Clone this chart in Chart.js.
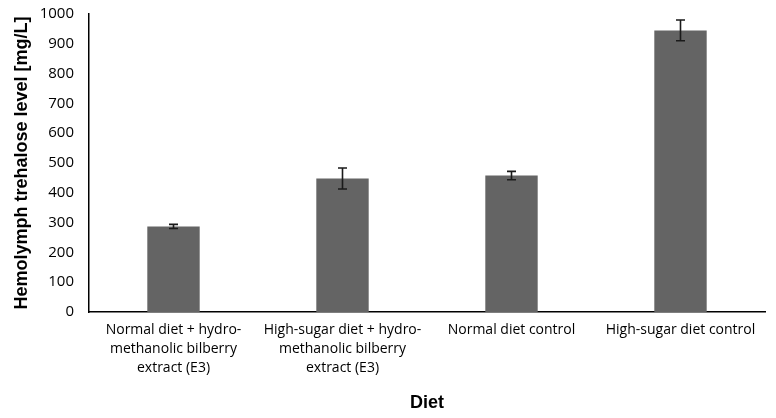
<!DOCTYPE html>
<html>
<head>
<meta charset="utf-8">
<script src="https://cdn.jsdelivr.net/npm/chart.js@4"></script>
<style>
  html, body { margin: 0; padding: 0; background: #fff; }
  #wrap { width: 776px; height: 418px; }
</style>
</head>
<body>
<div id="wrap"><canvas id="myChart"></canvas></div>
<script>
// categories (multi-line labels as in the figure)
const dietLabels = [
  ["Normal diet + hydro-", "methanolic bilberry", "extract (E3)"],
  ["High-sugar diet + hydro-", "methanolic bilberry", "extract (E3)"],
  ["Normal diet control"],
  ["High-sugar diet control"]
];
// mean trehalose level and error (mg/L)
const trehaloseMean = [287, 448, 458, 945];
const trehaloseErr = [7, 35, 14, 35];
const yTicks = [0, 100, 200, 300, 400, 500, 600, 700, 800, 900, 1000];

const tickFont = "'Open Sans', 'Liberation Sans', sans-serif";
const titleFont = "'Liberation Sans', Arial, sans-serif";

// draws error bars using the chart's own scales
const errorBars = {
  id: "errorBars",
  afterDatasetsDraw(chart) {
    const ctx = chart.ctx;
    const meta = chart.getDatasetMeta(0);
    const y = chart.scales.y;
    ctx.save();
    ctx.strokeStyle = "#1a1a1a";
    ctx.lineWidth = 1.6;
    meta.data.forEach(function (bar, i) {
      const top = y.getPixelForValue(trehaloseMean[i] + trehaloseErr[i]);
      const bot = y.getPixelForValue(trehaloseMean[i] - trehaloseErr[i]);
      const x = bar.x;
      ctx.beginPath();
      ctx.moveTo(x, top);
      ctx.lineTo(x, bot);
      ctx.moveTo(x - 4.5, top);
      ctx.lineTo(x + 4.5, top);
      ctx.moveTo(x - 4.5, bot);
      ctx.lineTo(x + 4.5, bot);
      ctx.stroke();
    });
    ctx.restore();
  }
};

const data = {
  labels: dietLabels,
  datasets: [
    {
      data: trehaloseMean,
      backgroundColor: "#646464",
      borderWidth: 0,
      barPercentage: 0.31,
      categoryPercentage: 1.0,
    },
  ],
};

const config = {
  type: "bar",
  data,
  plugins: [errorBars],
  options: {
    responsive: true,
    maintainAspectRatio: false,
    animation: false,
    layout: {
      padding: { top: 14, right: 11, left: 0, bottom: 0 },
    },
    plugins: {
      legend: { display: false },
      tooltip: { enabled: false },
    },
    scales: {
      x: {
        grid: { display: false, drawTicks: false },
        border: { display: true, color: "#000", width: 1.5 },
        ticks: {
          color: "#000",
          padding: 9,
          maxRotation: 0,
          autoSkip: false,
          font: { size: 14, family: tickFont, lineHeight: 1.35 },
        },
        title: {
          display: true,
          text: "Diet",
          color: "#000",
          padding: { top: 0, bottom: 4 },
          font: { size: 18, weight: "bold", family: titleFont },
        },
        afterFit: function (scale) {
          scale.height = 106;
          scale.paddingLeft = 0;
          scale.paddingRight = 0;
        },
      },
      y: {
        min: 0,
        max: 1000,
        afterBuildTicks: function (scale) {
          scale.ticks = yTicks.map(function (v) { return { value: v }; });
        },
        grid: { display: false, drawTicks: false },
        border: { display: true, color: "#000", width: 1.5 },
        ticks: {
          color: "#000",
          padding: 15,
          font: { size: 15, family: tickFont },
          callback: function (v) { return String(v); },
        },
        title: {
          display: true,
          text: "Hemolymph trehalose level [mg/L]",
          color: "#000",
          padding: { top: 11, bottom: 0 },
          font: { size: 18, weight: "bold", family: titleFont },
        },
        afterFit: function (scale) {
          scale.width = 89;
          scale.paddingTop = 0;
          scale.paddingBottom = 0;
        },
      },
    },
  },
};

window.myChart = new Chart(document.getElementById("myChart"), config);
</script>
</body>
</html>
